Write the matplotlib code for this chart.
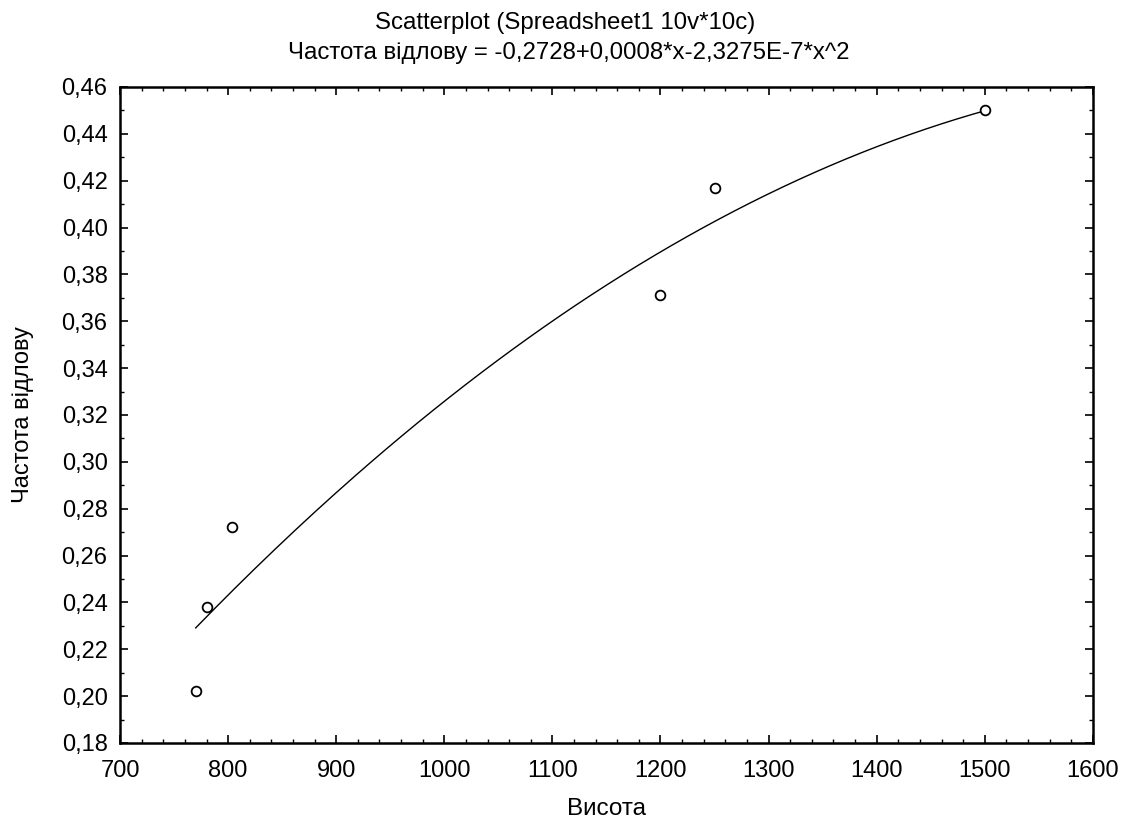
import numpy as np
import matplotlib.pyplot as plt
from matplotlib.ticker import MultipleLocator, FuncFormatter

plt.rcParams['font.family'] = ['Liberation Sans', 'DejaVu Sans']

# data
height = np.array([770, 780, 804, 1200, 1250, 1500])
catch_rate = np.array([0.202, 0.238, 0.272, 0.371, 0.417, 0.450])

x_ticks = np.arange(700, 1601, 100)
y_ticks = np.arange(0.18, 0.461, 0.02)

# quadratic fit, like the title says
coef = np.polyfit(height, catch_rate, 2)
x_fit = np.linspace(height.min(), height.max(), 200)
y_fit = np.polyval(coef, x_fit)

fig = plt.figure(figsize=(11.22, 8.26), dpi=100)
ax = fig.add_axes([0.107, 0.1005, 0.867, 0.7942])

ax.plot(x_fit, y_fit, color='black', linewidth=1.0)
ax.plot(height, catch_rate, linestyle='none', marker='o', markersize=7,
        markerfacecolor='white', markeredgecolor='black', markeredgewidth=1.3)

ax.set_xlim(700, 1600)
ax.set_ylim(0.18, 0.46)
ax.set_xticks(x_ticks)
ax.set_yticks(y_ticks)
ax.xaxis.set_minor_locator(MultipleLocator(20))
ax.yaxis.set_minor_locator(MultipleLocator(0.01))
ax.yaxis.set_major_formatter(FuncFormatter(lambda v, p: f'{v:.2f}'.replace('.', ',')))

ax.tick_params(which='both', direction='in', top=True, right=True, labelsize=17)
ax.tick_params(which='major', length=6, width=1.2)
ax.tick_params(axis='x', which='major', pad=12)
ax.tick_params(axis='y', which='major', pad=9)
ax.tick_params(which='minor', length=3, width=1.0)
for s in ax.spines.values():
    s.set_linewidth(1.8)

ax.set_xlabel('Висота', fontsize=17.5, labelpad=12)
ax.set_ylabel('Частота відлову', fontsize=17, labelpad=20)

fig.text(0.504, 0.972, 'Scatterplot (Spreadsheet1 10v*10c)', ha='center', va='center', fontsize=17.3)
fig.text(0.507, 0.936, 'Частота відлову = -0,2728+0,0008*x-2,3275E-7*x^2',
         ha='center', va='center', fontsize=17.3)

fig.savefig('out.png', dpi=100)
